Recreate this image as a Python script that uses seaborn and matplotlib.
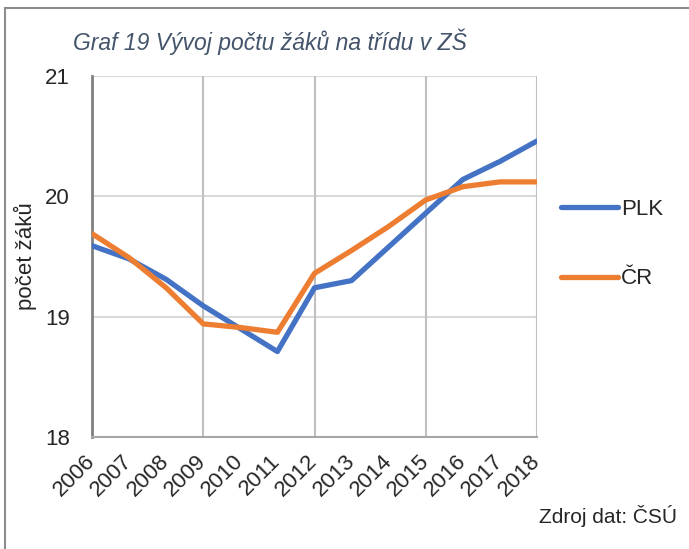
import numpy as np
import pandas as pd
import matplotlib
matplotlib.use('Agg')
import matplotlib.pyplot as plt
import seaborn as sns
from matplotlib.patches import Rectangle

# Data
roky = [2006, 2007, 2008, 2009, 2010, 2011, 2012, 2013, 2014, 2015, 2016, 2017, 2018]
plk = [19.59, 19.48, 19.31, 19.09, 18.90, 18.71, 19.24, 19.30, 19.58, 19.86, 20.14, 20.29, 20.46]
cr = [19.69, 19.49, 19.24, 18.94, 18.91, 18.87, 19.36, 19.55, 19.75, 19.97, 20.08, 20.12, 20.12]
serie = ['PLK', 'ČR']
barvy = ['#4472C4', '#ED7D31']
y_ticks = [18, 19, 20, 21]
grid_roky = [2009, 2012, 2015, 2018]

df = pd.DataFrame({
    'rok': roky * 2,
    'hodnota': plk + cr,
    'serie': ['PLK'] * len(roky) + ['ČR'] * len(roky),
})

sns.set_style('white')
plt.rcParams['font.family'] = ['Liberation Sans', 'DejaVu Sans']

fig = plt.figure(figsize=(6.89, 5.49), dpi=100)
ax = fig.add_axes([92 / 689, 1 - 437 / 549, (537 - 92) / 689, (437 - 76) / 549])

# gridlines first, under the lines
for y in y_ticks[1:]:
    ax.axhline(y, color='#D9D9D9', lw=1.5, zorder=0)
for x in grid_roky:
    ax.axvline(x, color='#C0C0C0', lw=1.5, zorder=0)

sns.lineplot(data=df, x='rok', y='hodnota', hue='serie', hue_order=serie,
             palette=barvy, lw=3.8, ax=ax, legend=False, zorder=3)

ax.set_xlim(roky[0], roky[-1])
ax.set_ylim(y_ticks[0], y_ticks[-1])
ax.set_yticks(y_ticks)
ax.set_yticklabels([str(v) for v in y_ticks], fontsize=16)
ax.set_xticks(roky)
ax.set_xticklabels([str(r) for r in roky], fontsize=16, rotation=45,
                   ha='right', va='center', rotation_mode='anchor')
ax.tick_params(axis='both', length=0)
ax.tick_params(axis='x', pad=15)
ax.tick_params(axis='y', pad=16)
ax.set_xlabel('')
ax.set_ylabel('počet žáků', fontsize=16, labelpad=6)

for s in ['top', 'right']:
    ax.spines[s].set_visible(False)
ax.spines['left'].set_color('#808080')
ax.spines['left'].set_linewidth(2)
ax.spines['bottom'].set_color('#A6A6A6')
ax.spines['bottom'].set_linewidth(1.5)

# legend
handles = [plt.Line2D([], [], color=c, lw=3.8, solid_capstyle='round') for c in barvy]
fig.legend(handles, serie, loc='center left', bbox_to_anchor=(541 / 689, 1 - 244 / 549),
           frameon=False, fontsize=16, handlelength=2.55, handletextpad=0.15,
           labelspacing=2.2)

fig.text(73 / 689, 1 - 42 / 549, 'Graf 19 Vývoj počtu žáků na třídu v ZŠ',
         fontsize=16.5, style='italic', color='#44546A', va='center', ha='left')
fig.text(677 / 689, 1 - 523 / 549, 'Zdroj dat: ČSÚ', fontsize=15,
         ha='right', va='baseline')

# frame around the whole chart
fig.patches.append(Rectangle((5 / 689, -0.1), 1.2, 1 - 8 / 549 + 0.1,
                             transform=fig.transFigure, fill=False,
                             edgecolor='#8C8C8C', lw=1.5))

fig.savefig('out.png', dpi=100)
